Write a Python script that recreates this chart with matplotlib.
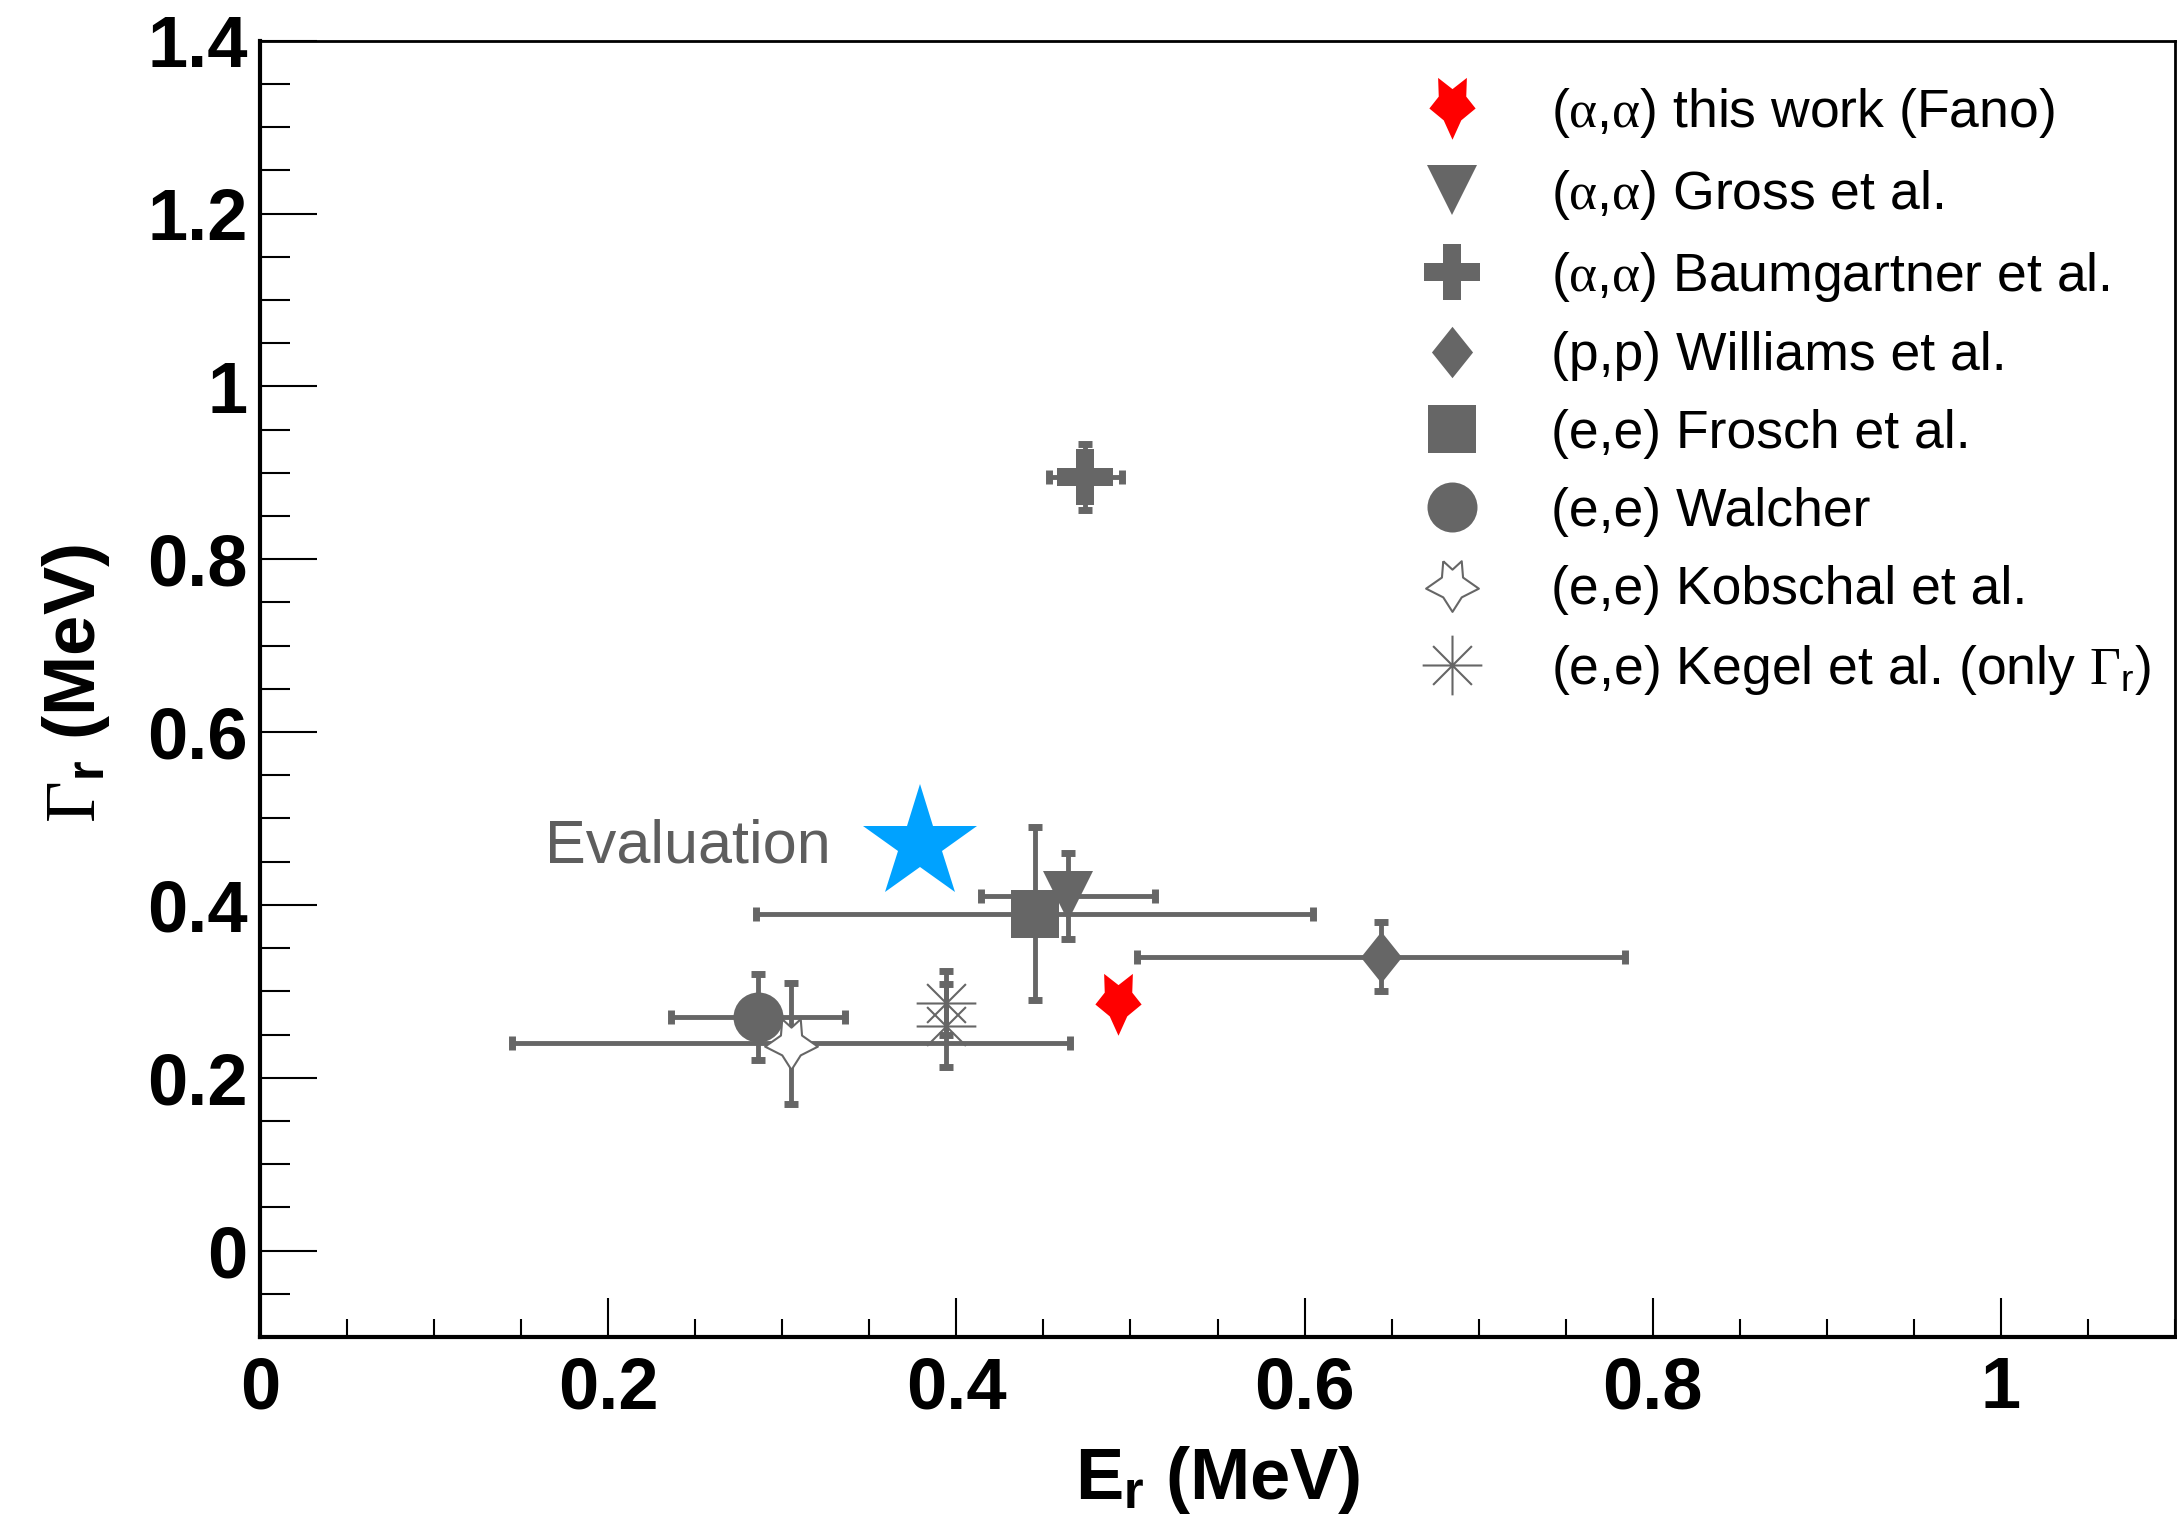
import matplotlib.pyplot as plt
from matplotlib.path import Path
from matplotlib.ticker import MultipleLocator, FormatStrFormatter

plt.rcParams['font.family'] = ['Liberation Sans', 'DejaVu Sans']
plt.rcParams['mathtext.fontset'] = 'custom'
plt.rcParams['mathtext.rm'] = 'Liberation Serif'
plt.rcParams['mathtext.it'] = 'Liberation Serif'
plt.rcParams['mathtext.sf'] = 'Liberation Sans'
plt.rcParams['mathtext.bf'] = 'Liberation Sans:bold'

# resonance energy E_r and width Gamma_r in MeV, with errors
fano_E, fano_G = [0.493], [0.285]
gross_E, gross_G, gross_dE, gross_dG = [0.464], [0.41], [0.05], [0.05]
baum_E, baum_G, baum_dE, baum_dG = [0.474], [0.895], [0.021], [0.038]
will_E, will_G, will_dE, will_dG = [0.644], [0.34], [0.14], [0.04]
frosch_E, frosch_G, frosch_dE, frosch_dG = [0.445], [0.39], [0.16], [0.10]
walch_E, walch_G, walch_dE, walch_dG = [0.286], [0.27], [0.05], [0.05]
kob_E, kob_G, kob_dE, kob_dG = [0.305], [0.24], [0.16], [0.07]
kegel_E, kegel_G, kegel_dG = [0.394, 0.394], [0.287, 0.26], [0.037, 0.048]
eval_E, eval_G = [0.379], [0.47]

labels = [r'($\alpha$,$\alpha$) this work (Fano)',
          r'($\alpha$,$\alpha$) Gross et al.',
          r'($\alpha$,$\alpha$) Baumgartner et al.',
          '(p,p) Williams et al.',
          '(e,e) Frosch et al.',
          '(e,e) Walcher',
          '(e,e) Kobschal et al.',
          r'(e,e) Kegel et al. (only $\Gamma_{\mathsf{r}}$)']

gray = '#666666'

# odd five-pointed star shapes
fano_star = [(-0.46, 0.98), (0, 0.62), (0.46, 0.98), (0.44, 0.38), (0.74, 0.0),
             (0.28, -0.38), (0, -1.0), (-0.28, -0.38), (-0.74, 0.0), (-0.44, 0.38),
             (-0.46, 0.98)]
open_star = [(-0.35, 0.92), (0, 0.6), (0.35, 0.92), (0.4, 0.3), (1.0, -0.12),
             (0.35, -0.45), (0, -1.0), (-0.35, -0.45), (-1.0, -0.12), (-0.4, 0.3),
             (-0.35, 0.92)]
thin_diamond = [(0, 1), (0.8, 0), (0, -1), (-0.8, 0), (0, 1)]
asterisk = Path([(-1, 0), (1, 0), (0, -1), (0, 1),
                 (-0.65, -0.65), (0.65, 0.65), (-0.65, 0.65), (0.65, -0.65)],
                [Path.MOVETO, Path.LINETO] * 4)

fig = plt.figure(figsize=(21.77, 15.19), dpi=100)
ax = fig.add_axes([260 / 2177, 182 / 1519, 1915 / 2177, 1296.3 / 1519])

err_kw = dict(fmt='none', ecolor=gray, elinewidth=3.5, capsize=4.7, capthick=5, zorder=2)
ax.errorbar(gross_E, gross_G, xerr=gross_dE, yerr=gross_dG, **err_kw)
ax.errorbar(baum_E, baum_G, xerr=baum_dE, yerr=baum_dG, **err_kw)
ax.errorbar(will_E, will_G, xerr=will_dE, yerr=will_dG, **err_kw)
ax.errorbar(frosch_E, frosch_G, xerr=frosch_dE, yerr=frosch_dG, **err_kw)
ax.errorbar(walch_E, walch_G, xerr=walch_dE, yerr=walch_dG, **err_kw)
ax.errorbar(kob_E, kob_G, xerr=kob_dE, yerr=kob_dG, **err_kw)
ax.errorbar(kegel_E, kegel_G, yerr=kegel_dG, **err_kw)

handles = []
h, = ax.plot(fano_E, fano_G, ls='none', marker=fano_star, ms=45, color='red', mew=0, zorder=4)
handles.append(h)
h, = ax.plot(gross_E, gross_G, ls='none', marker='v', ms=36, color=gray, mew=0, zorder=3)
handles.append(h)
h, = ax.plot(baum_E, baum_G, ls='none', marker='P', ms=40, color=gray, mew=0, zorder=3)
handles.append(h)
h, = ax.plot(will_E, will_G, ls='none', marker=thin_diamond, ms=37, color=gray, mew=0, zorder=3)
handles.append(h)
h, = ax.plot(frosch_E, frosch_G, ls='none', marker='s', ms=34, color=gray, mew=0, zorder=3)
handles.append(h)
h, = ax.plot(walch_E, walch_G, ls='none', marker='o', ms=36, color=gray, mew=0, zorder=3)
handles.append(h)
h, = ax.plot(kob_E, kob_G, ls='none', marker=open_star, ms=38, mfc='white', mec=gray,
             mew=1.5, zorder=3)
handles.append(h)
h, = ax.plot(kegel_E, kegel_G, ls='none', marker=asterisk, ms=43, mfc='none', mec=gray,
             mew=1.5, zorder=3)
handles.append(h)

# evaluated value
ax.plot(eval_E, eval_G, ls='none', marker='*', ms=86, color='#00A2FF', mew=0, zorder=5)
ax.text(0.328, 0.449, 'Evaluation', fontsize=44, color='#5E5E5E', ha='right', va='baseline')

ax.set_xlim(0, 1.1)
ax.set_ylim(-0.1, 1.4)
ax.xaxis.set_major_locator(MultipleLocator(0.2))
ax.xaxis.set_minor_locator(MultipleLocator(0.05))
ax.yaxis.set_major_locator(MultipleLocator(0.2))
ax.yaxis.set_minor_locator(MultipleLocator(0.05))
ax.xaxis.set_major_formatter(FormatStrFormatter('%g'))
ax.yaxis.set_major_formatter(FormatStrFormatter('%g'))

ax.tick_params(which='both', direction='in', top=False, right=False, width=1.5,
               labelsize=52)
ax.tick_params(axis='x', which='major', length=28, pad=13)
ax.tick_params(axis='x', which='minor', length=13)
ax.tick_params(axis='y', which='major', length=41, pad=9)
ax.tick_params(axis='y', which='minor', length=21.5)
for lab in ax.get_xticklabels() + ax.get_yticklabels():
    lab.set_fontweight('bold')

for side in ['left', 'bottom']:
    ax.spines[side].set_linewidth(3)
for side in ['top', 'right']:
    ax.spines[side].set_linewidth(2)

ax.set_xlabel(r'E$_{\mathbf{r}}$ (MeV)', fontsize=52, fontweight='bold', va='baseline')
ax.xaxis.set_label_coords(0.5, -0.125)
ax.set_ylabel(r'$\Gamma_{\mathbf{r}}$ (MeV)', fontsize=52, fontweight='bold', va='center')
ax.yaxis.set_label_coords(-0.096, 0.504)

ax.legend(handles, labels, loc='upper left', bbox_to_anchor=(0.6003, 0.9651),
          frameon=False, fontsize=38.5, handlelength=1.6, handletextpad=1.05,
          labelspacing=0.52, borderpad=0, borderaxespad=0, numpoints=1)

fig.savefig('out.png', dpi=100)
